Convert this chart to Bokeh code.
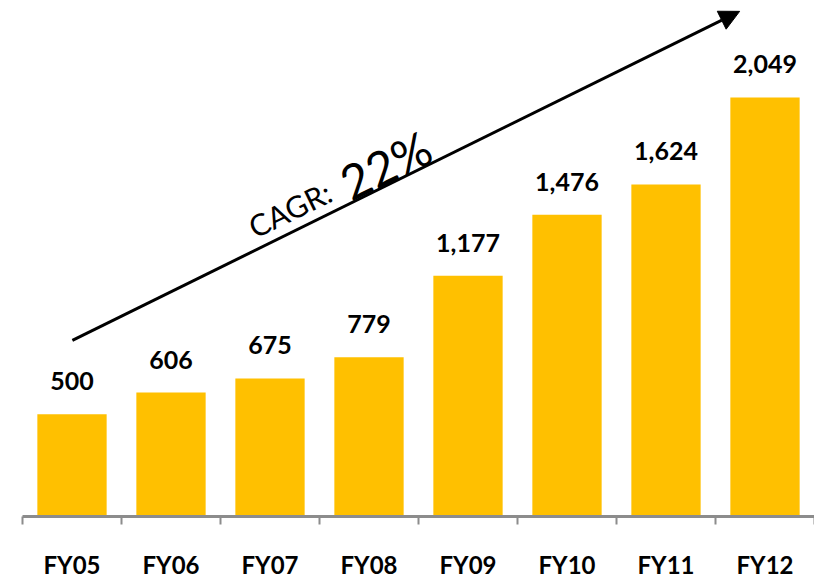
from bokeh.plotting import figure
from bokeh.models import ColumnDataSource, FixedTicker, Range1d, Arrow, NormalHead, Label
from bokeh.embed import file_html
from bokeh.resources import INLINE
from bokeh.core.properties import value

categories = ["FY05", "FY06", "FY07", "FY08", "FY09", "FY10", "FY11", "FY12"]
values = [500, 606, 675, 779, 1177, 1476, 1624, 2049]
value_labels = ["500", "606", "675", "779", "1,177", "1,476", "1,624", "2,049"]

xs = [i + 0.5 for i in range(len(categories))]
src = ColumnDataSource(dict(x=xs, v=values, lab=value_labels))

p = figure(frame_width=792, frame_height=508, output_backend="svg", toolbar_location=None,
           x_range=Range1d(0, len(categories)), y_range=Range1d(0, 2484),
           min_border_left=22, min_border_right=0, min_border_top=8, min_border_bottom=60)
p.outline_line_color = None
p.grid.visible = False
p.yaxis.visible = False
p.background_fill_color = "white"
p.border_fill_color = "white"

p.vbar(x="x", top="v", width=0.7, bottom=0, source=src, fill_color="#FFC000", line_color=None)
p.text(x="x", y="v", text="lab", source=src, y_offset=-33, text_align="center",
       text_baseline="alphabetic", text_font=value("Lato"), text_font_style="bold",
       text_font_size="25px", text_color="#000000")

ax = p.xaxis[0]
ax.ticker = FixedTicker(ticks=xs, minor_ticks=list(range(len(categories) + 1)))
ax.major_label_overrides = {x: c for x, c in zip(xs, categories)}
ax.major_tick_out = 0
ax.major_tick_in = 0
ax.minor_tick_out = 8
ax.minor_tick_in = 0
ax.minor_tick_line_color = "#8c8c8c"
ax.minor_tick_line_width = 2
ax.axis_line_color = "#8c8c8c"
ax.axis_line_width = 3
ax.major_label_standoff = 25
ax.major_label_text_font = "Lato"
ax.major_label_text_font_style = "bold"
ax.major_label_text_font_size = "24px"
ax.major_label_text_color = "#000000"

p.add_layout(Arrow(x_start=0.504, y_start=861, x_end=7.244, y_end=2470,
                   line_width=3, line_color="black",
                   end=NormalHead(size=20, fill_color="black", line_color="black")))

p.add_layout(Label(x=2.30, y=1410, text="CAGR:", angle=26, angle_units="deg",
                   text_font="Lato", text_font_size="30px", text_color="black",
                   text_align="left", text_baseline="alphabetic"))
p.add_layout(Label(x=3.24, y=1620, text="22%", angle=26, angle_units="deg",
                   text_font="Lato", text_font_size="48px", text_color="black",
                   text_align="left", text_baseline="alphabetic"))

open("out.html", "w").write(file_html(p, INLINE))
